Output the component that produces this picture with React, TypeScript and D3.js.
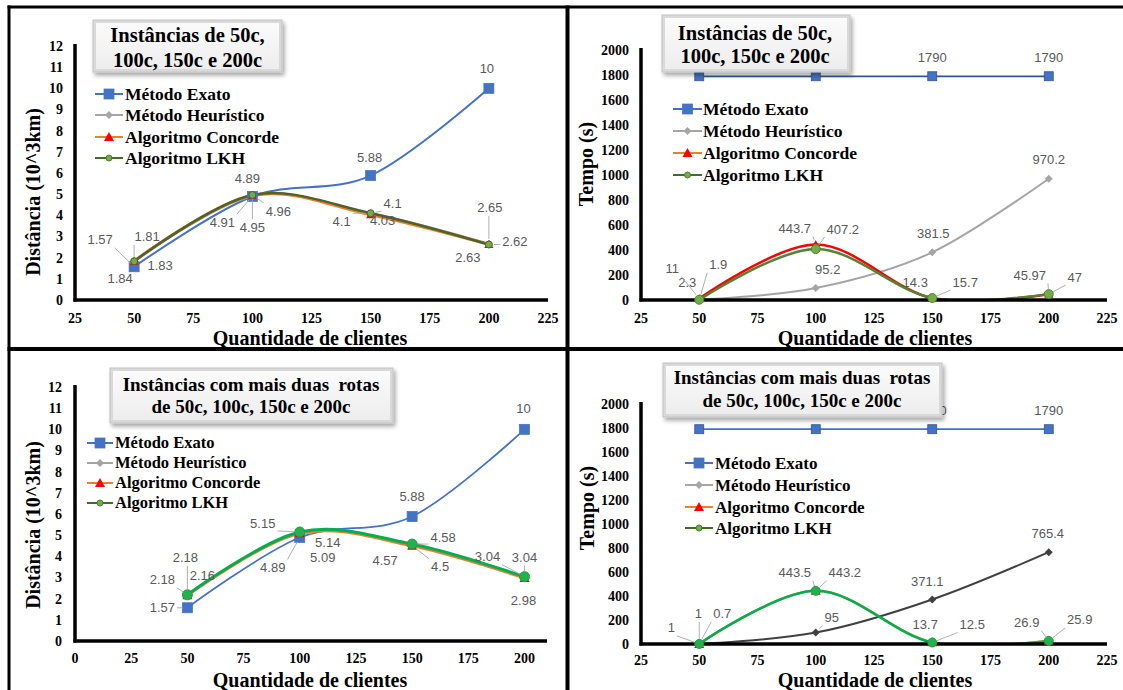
import React from 'react'
import * as d3 from 'd3'

const clientes = [50, 100, 150, 200]
const nomes = ['Método Exato', 'Método Heurístico', 'Algoritmo Concorde', 'Algoritmo LKH']

// Instâncias de 50c, 100c, 150c e 200c
const distExato = [1.57, 4.89, 5.88, 10]
const distHeuristico = [1.81, 4.91, 4.1, 2.65]
const distConcorde = [1.84, 4.95, 4.03, 2.63]
const distLkh = [1.83, 4.96, 4.1, 2.62]

const tempoExato = [1790, 1790, 1790, 1790]
const tempoHeuristico = [2.3, 95.2, 381.5, 970.2]
const tempoConcorde = [11, 443.7, 14.3, 45.97]
const tempoLkh = [1.9, 407.2, 15.7, 47]

// Instâncias com mais duas rotas
const dist2Exato = [1.57, 4.89, 5.88, 10]
const dist2Heuristico = [2.18, 5.14, 4.57, 3.04]
const dist2Concorde = [2.16, 5.09, 4.5, 2.98]
const dist2Lkh = [2.18, 5.15, 4.58, 3.04]

const tempo2Exato = [1790, 1790, 1790, 1790]
const tempo2Heuristico = [1, 95, 371.1, 765.4]
const tempo2Concorde = [1, 443.5, 13.7, 26.9]
const tempo2Lkh = [0.7, 443.2, 12.5, 25.9]

const ticksDist = [0, 1, 2, 3, 4, 5, 6, 7, 8, 9, 10, 11, 12]
const ticksTempo = [0, 200, 400, 600, 800, 1000, 1200, 1400, 1600, 1800, 2000]
const ticksX25 = [25, 50, 75, 100, 125, 150, 175, 200, 225]
const ticksX0 = [0, 25, 50, 75, 100, 125, 150, 175, 200]

const SERIF = '"Liberation Serif", "Times New Roman", serif'
const SANS = '"Liberation Sans", Arial, sans-serif'

type Sty = { line: string; w: number; mk: string; s: number; fill: string; stroke?: string }

const legendSty: Sty[] = [
  { line: '#4472C4', w: 2, mk: 'square', s: 10, fill: '#4472C4' },
  { line: '#A5A5A5', w: 2, mk: 'diamond', s: 8, fill: '#A5A5A5' },
  { line: '#ED7D31', w: 2, mk: 'triangle', s: 10, fill: '#FF0000' },
  { line: '#3F6E22', w: 2, mk: 'circle', s: 6, fill: '#70AD47', stroke: '#4E7F2E' },
]
const styTL: Sty[] = [
  { line: '#4472C4', w: 2, mk: 'square', s: 10, fill: '#4472C4' },
  { line: '#A5A5A5', w: 2.25, mk: 'diamond', s: 8, fill: '#A5A5A5' },
  { line: '#ED7D31', w: 3, mk: 'triangle', s: 9, fill: '#FF0000' },
  { line: '#4F6228', w: 2.5, mk: 'circle', s: 7, fill: '#70AD47', stroke: '#4F6228' },
]
const styTR: Sty[] = [
  { line: '#2F5597', w: 1.75, mk: 'square', s: 9, fill: '#4472C4', stroke: '#2F528F' },
  { line: '#A5A5A5', w: 2, mk: 'diamond', s: 8, fill: '#A5A5A5' },
  { line: '#FF0000', w: 2.5, mk: 'triangle', s: 9, fill: '#FF0000' },
  { line: '#548235', w: 2.5, mk: 'circle', s: 9, fill: '#70AD47', stroke: '#548235' },
]
const styBL: Sty[] = [
  { line: '#4472C4', w: 1.75, mk: 'square', s: 10, fill: '#4472C4' },
  { line: '#A5A5A5', w: 2, mk: 'diamond', s: 8, fill: '#A5A5A5' },
  { line: '#ED7D31', w: 3, mk: 'triangle', s: 10, fill: '#FF0000' },
  { line: '#00B050', w: 3, mk: 'circle', s: 10, fill: '#22B14C', stroke: '#1E9E43' },
]
const styBR: Sty[] = [
  { line: '#4472C4', w: 1.75, mk: 'square', s: 9, fill: '#4472C4', stroke: '#2F528F' },
  { line: '#404040', w: 2, mk: 'diamond', s: 8, fill: '#404040' },
  { line: '#ED7D31', w: 2.5, mk: 'triangle', s: 10, fill: '#FF0000' },
  { line: '#00B050', w: 2.5, mk: 'circle', s: 9, fill: '#22B14C', stroke: '#1E9E43' },
]

// data label offsets from the point: [dx, dy, mode] — mode 1 = leader line, -1 = hidden under the title box
type Lab = [number, number, number]
const labTL: Lab[][] = [
  [[-34, -27, 1], [-5, -18, 0], [-1, -18, 0], [-2, -20, 0]],
  [[13, -25, 1], [-30, 26, 1], [22, -10, 1], [1, -36, 1]],
  [[-14, 17, 0], [0, 32, 1], [12, 6, 0], [-21, 13, 0]],
  [[26, 4, 0], [26, 16, 1], [-29, 8, 1], [26, -3, 1]],
]
const labTR: Lab[][] = [
  [[0, -19, -1], [0, -19, -1], [0, -19, 0], [0, -19, 0]],
  [[-12, -17, 0], [12, -19, 0], [1, -19, 0], [0, -19, 0]],
  [[-27, -30, 1], [-21, -16, 1], [-17, -16, 0], [-19, -19, 1]],
  [[19, -35, 1], [27, -20, 1], [33, -16, 1], [26, -17, 1]],
]
const labBL: Lab[][] = [
  [[-25, 0, 1], [-27, 30, 1], [0, -20, 0], [-1, -21, 0]],
  [[-25, -15, 1], [28, 10, 1], [-27, 16, 0], [-37, -20, 1]],
  [[15, -20, 0], [23, 24, 0], [28, 21, 1], [-1, 23, 0]],
  [[-2, -37, 1], [-37, -9, 1], [31, -7, 1], [0, -19, 1]],
]
const labBR: Lab[][] = [
  [[0, -19, -1], [0, -19, -1], [0, -19, 0], [0, -19, 0]],
  [[-28, -16, 1], [16, -15, 1], [-5, -18, 0], [-1, -19, 0]],
  [[-1, -30, 1], [-21, -18, 1], [-7, -18, 0], [-22, -18, 1]],
  [[23, -30, 1], [29, -18, 1], [40, -18, 1], [31, -21, 1]],
]

type Cfg = {
  id: string
  series: number[][]
  sty: Sty[]
  labs: Lab[][]
  xDomain: [number, number]; xRange: [number, number]; xTicks: number[]
  yDomain: [number, number]; yRange: [number, number]; yTicks: number[]
  yTickX: number; xTickY: number
  yTitle: string; yTitleX: number; yTitleY: number
  xTitleX: number; xTitleY: number
  title: string[]; box: [number, number, number, number]; titleX: number; titleY: number[]; titleSize: number
  leg: { x0: number; x1: number; tx: number; ys: number[]; size: number }
}

const panels: Cfg[] = [
  {
    id: 'tl', series: [distExato, distHeuristico, distConcorde, distLkh], sty: styTL, labs: labTL,
    xDomain: [25, 225], xRange: [75, 548], xTicks: ticksX25,
    yDomain: [0, 12], yRange: [300, 46], yTicks: ticksDist,
    yTickX: 63, xTickY: 318,
    yTitle: 'Distância (10^3km)', yTitleX: 33, yTitleY: 192, xTitleX: 310, xTitleY: 338,
    title: ['Instâncias de 50c,', '100c, 150c e 200c'], box: [93, 20, 189, 52], titleX: 187.5, titleY: [41.5, 67], titleSize: 20.5,
    leg: { x0: 95, x1: 123, tx: 125, ys: [94, 115, 137, 158], size: 17.5 },
  },
  {
    id: 'tr', series: [tempoExato, tempoHeuristico, tempoConcorde, tempoLkh], sty: styTR, labs: labTR,
    xDomain: [25, 225], xRange: [641, 1107], xTicks: ticksX25,
    yDomain: [0, 2000], yRange: [300, 50], yTicks: ticksTempo,
    yTickX: 629, xTickY: 318,
    yTitle: 'Tempo (s)', yTitleX: 586, yTitleY: 164, xTitleX: 875, xTitleY: 338,
    title: ['Instâncias de 50c,', '100c, 150c e 200c'], box: [662, 15, 188, 57], titleX: 755, titleY: [39.5, 63], titleSize: 20.5,
    leg: { x0: 673, x1: 702, tx: 703, ys: [109, 131, 153, 175], size: 17.5 },
  },
  {
    id: 'bl', series: [dist2Exato, dist2Heuristico, dist2Concorde, dist2Lkh], sty: styBL, labs: labBL,
    xDomain: [0, 210], xRange: [75, 547], xTicks: ticksX0,
    yDomain: [0, 12], yRange: [641, 387], yTicks: ticksDist,
    yTickX: 62, xTickY: 658,
    yTitle: 'Distância (10^3km)', yTitleX: 33, yTitleY: 525, xTitleX: 310, xTitleY: 680,
    title: ['Instâncias com mais duas  rotas', 'de 50c, 100c, 150c e 200c'], box: [110, 368, 283, 55], titleX: 251, titleY: [391, 413], titleSize: 19,
    leg: { x0: 87, x1: 113, tx: 115, ys: [443, 463, 483, 503], size: 16.5 },
  },
  {
    id: 'br', series: [tempo2Exato, tempo2Heuristico, tempo2Concorde, tempo2Lkh], sty: styBR, labs: labBR,
    xDomain: [25, 225], xRange: [641, 1107], xTicks: ticksX25,
    yDomain: [0, 2000], yRange: [644, 404], yTicks: ticksTempo,
    yTickX: 629, xTickY: 660,
    yTitle: 'Tempo (s)', yTitleX: 587, yTitleY: 508, xTitleX: 875, xTitleY: 680,
    title: ['Instâncias com mais duas  rotas', 'de 50c, 100c, 150c e 200c'], box: [663, 363, 279, 54], titleX: 802, titleY: [384, 407], titleSize: 19,
    leg: { x0: 685, x1: 713, tx: 715, ys: [463, 485, 507, 528], size: 17 },
  },
]

function textW(s: string) {
  let w = 0
  for (const c of s) w += c === '.' ? 3.6 : 7.2
  return w
}

function leaderPath(px: number, py: number, lx: number, ly: number, w: number) {
  const hw = w / 2 + 2, hh = 8
  const sx = Math.max(lx - hw, Math.min(lx + hw, px))
  const sy = Math.max(ly - hh, Math.min(ly + hh, py))
  const dx = px - sx, dy = py - sy
  const d = Math.hypot(dx, dy)
  if (d < 7) return null
  return `M${sx},${sy}L${px - (dx / d) * 5},${py - (dy / d) * 5}`
}

function Marker({ x, y, st }: { x: number; y: number; st: Sty }) {
  const s = st.s / 2
  const stroke = st.stroke || st.fill
  if (st.mk === 'square') return <rect x={x - s} y={y - s} width={st.s} height={st.s} fill={st.fill} stroke={stroke} strokeWidth={0.75} />
  if (st.mk === 'diamond') return <path d={`M${x},${y - s}L${x + s},${y}L${x},${y + s}L${x - s},${y}Z`} fill={st.fill} />
  if (st.mk === 'triangle') return <path d={`M${x},${y - s}L${x + s},${y + s * 0.8}L${x - s},${y + s * 0.8}Z`} fill={st.fill} />
  return <circle cx={x} cy={y} r={s} fill={st.fill} stroke={stroke} strokeWidth={1} />
}

function Panel({ p }: { p: Cfg }) {
  const x = d3.scaleLinear().domain(p.xDomain).range(p.xRange)
  const y = d3.scaleLinear().domain(p.yDomain).range(p.yRange)
  const line = d3.line<number>().x((_, i) => x(clientes[i])).y(v => y(v)).curve(d3.curveCatmullRom.alpha(0))
  const ax = p.xRange[0], ay = p.yRange[0]
  const [bx, by, bw, bh] = p.box
  return (
    <g>
      <defs>
        <clipPath id={`clip-${p.id}`}>
          <rect x={ax} y={p.yRange[1] - 40} width={p.xRange[1] - ax} height={ay - p.yRange[1] + 40} />
        </clipPath>
      </defs>
      <g clipPath={`url(#clip-${p.id})`}>
        {p.series.map((vals, si) => (
          <path key={si} d={line(vals) || ''} fill="none" stroke={p.sty[si].line} strokeWidth={p.sty[si].w} />
        ))}
      </g>
      <line x1={ax} x2={ax} y1={p.yRange[1] - 2} y2={ay + 1.5} stroke="#000" strokeWidth={3.5} />
      <line x1={ax - 1.5} x2={p.xRange[1]} y1={ay} y2={ay} stroke="#000" strokeWidth={3.5} />
      {p.series.map((vals, si) => vals.map((v, i) => <Marker key={`${si}-${i}`} x={x(clientes[i])} y={y(v)} st={p.sty[si]} />))}
      {p.series.map((vals, si) => vals.map((v, i) => {
        const px = x(clientes[i]), py = y(v)
        const [dx, dy, mode] = p.labs[si][i]
        if (mode < 0) return null
        const lx = px + dx, ly = py + dy
        const txt = String(v)
        const lp = mode ? leaderPath(px, py, lx, ly, textW(txt)) : null
        return (
          <g key={`l${si}-${i}`}>
            {lp && <path d={lp} fill="none" stroke="#A6A6A6" strokeWidth={0.9} />}
            <text x={lx} y={ly} dy="0.35em" textAnchor="middle" fontFamily={SANS} fontSize={13} fill="#595959">{txt}</text>
          </g>
        )
      }))}
      <g filter="url(#shadow)">
        <rect x={bx} y={by} width={bw} height={bh} fill="#d9d9d9" stroke="#c4c4c4" strokeWidth={1} />
      </g>
      <rect x={bx + 3} y={by + 3} width={bw - 6} height={bh - 6} fill="url(#boxGrad)" />
      {p.title.map((t, i) => (
        <text key={i} x={p.titleX} y={p.titleY[i]} textAnchor="middle" fontFamily={SERIF} fontWeight="bold" fontSize={p.titleSize} fill="#000" style={{ whiteSpace: 'pre' }}>{t}</text>
      ))}
      {nomes.map((n, i) => {
        const ly = p.leg.ys[i]
        const st = legendSty[i]
        return (
          <g key={n}>
            <line x1={p.leg.x0} x2={p.leg.x1} y1={ly} y2={ly} stroke={st.line} strokeWidth={st.w} />
            <Marker x={(p.leg.x0 + p.leg.x1) / 2} y={ly} st={st} />
            <text x={p.leg.tx} y={ly} dy="0.33em" fontFamily={SERIF} fontWeight="bold" fontSize={p.leg.size} fill="#000">{n}</text>
          </g>
        )
      })}
      {p.yTicks.map(t => (
        <text key={`y${t}`} x={p.yTickX} y={y(t)} dy="0.35em" textAnchor="end" fontFamily={SERIF} fontWeight="bold" fontSize={14} fill="#000">{t}</text>
      ))}
      {p.xTicks.map(t => (
        <text key={`x${t}`} x={x(t)} y={p.xTickY} dy="0.35em" textAnchor="middle" fontFamily={SERIF} fontWeight="bold" fontSize={14} fill="#000">{t}</text>
      ))}
      <text x={p.xTitleX} y={p.xTitleY} dy="0.35em" textAnchor="middle" fontFamily={SERIF} fontWeight="bold" fontSize={20} fill="#000">Quantidade de clientes</text>
      <text transform={`translate(${p.yTitleX},${p.yTitleY}) rotate(-90)`} dy="0.35em" textAnchor="middle" fontFamily={SERIF} fontWeight="bold" fontSize={20} fill="#000">{p.yTitle}</text>
    </g>
  )
}

export default function App() {
  return (
    <svg width={1123} height={690} style={{ position: 'absolute', left: 0, top: 0, background: '#fff' }}>
      <defs>
        <filter id="shadow" x="-10%" y="-20%" width="125%" height="150%">
          <feDropShadow dx="2" dy="3" stdDeviation="2" floodColor="#000" floodOpacity="0.35" />
        </filter>
        <linearGradient id="boxGrad" x1="0" y1="0" x2="0" y2="1">
          <stop offset="0" stopColor="#fbfbfb" />
          <stop offset="1" stopColor="#ededed" />
        </linearGradient>
      </defs>
      <rect x={0} y={0} width={1123} height={690} fill="#fff" />
      {panels.map(p => <Panel key={p.id} p={p} />)}
      <line x1={9} x2={9} y1={5.5} y2={690} stroke="#000" strokeWidth={3} />
      <line x1={567.5} x2={567.5} y1={5.5} y2={690} stroke="#000" strokeWidth={4} />
      <line x1={7.5} x2={1123} y1={7} y2={7} stroke="#000" strokeWidth={3} />
      <line x1={7.5} x2={1123} y1={349} y2={349} stroke="#000" strokeWidth={4} />
    </svg>
  )
}
